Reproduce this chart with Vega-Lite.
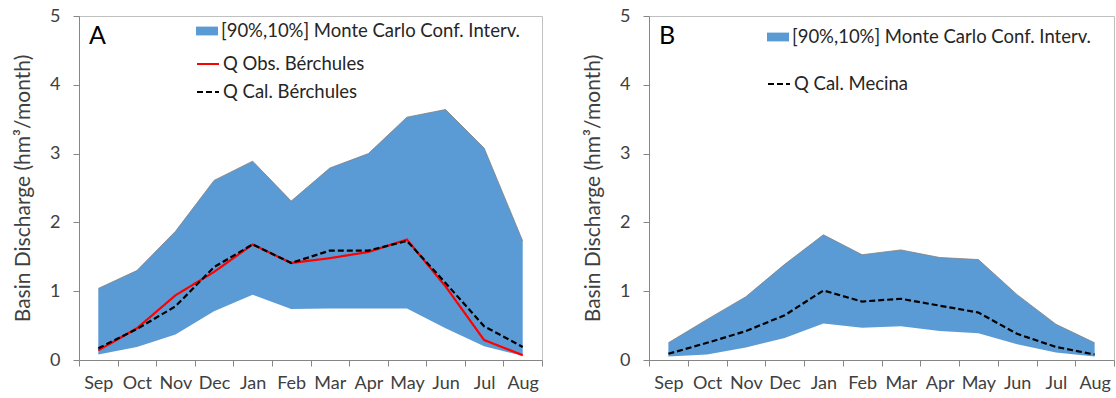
{
  "$schema": "https://vega.github.io/schema/vega-lite/v6.json",
  "padding": {"left": 12, "top": 6, "right": 1, "bottom": 0},
  "background": "white",
  "config": {
    "view": {"stroke": "#c0c0c0", "strokeWidth": 1},
    "axis": {"labelFont": "Lato", "titleFont": "Lato", "labelFontSize": 18, "titleFontSize": 21, "labelColor": "#404040", "titleColor": "#404040", "titleFontWeight": "normal", "domainColor": "#868686", "tickColor": "#868686", "grid": false},
    "legend": {"labelFont": "Lato", "labelFontSize": 18.5, "labelColor": "#262626", "padding": 0, "labelLimit": 500},
    "title": {"font": "Lato", "fontWeight": "normal", "fontSize": 25, "color": "#000000"}
  },
  "datasets": {
    "bandA": [
      {"month": "Sep", "lower": 0.08, "upper": 1.04, "series": "[90%,10%] Monte Carlo Conf. Interv."},
      {"month": "Oct", "lower": 0.19, "upper": 1.30, "series": "[90%,10%] Monte Carlo Conf. Interv."},
      {"month": "Nov", "lower": 0.37, "upper": 1.87, "series": "[90%,10%] Monte Carlo Conf. Interv."},
      {"month": "Dec", "lower": 0.71, "upper": 2.61, "series": "[90%,10%] Monte Carlo Conf. Interv."},
      {"month": "Jan", "lower": 0.95, "upper": 2.89, "series": "[90%,10%] Monte Carlo Conf. Interv."},
      {"month": "Feb", "lower": 0.74, "upper": 2.31, "series": "[90%,10%] Monte Carlo Conf. Interv."},
      {"month": "Mar", "lower": 0.75, "upper": 2.79, "series": "[90%,10%] Monte Carlo Conf. Interv."},
      {"month": "Apr", "lower": 0.75, "upper": 3.00, "series": "[90%,10%] Monte Carlo Conf. Interv."},
      {"month": "May", "lower": 0.75, "upper": 3.53, "series": "[90%,10%] Monte Carlo Conf. Interv."},
      {"month": "Jun", "lower": 0.46, "upper": 3.64, "series": "[90%,10%] Monte Carlo Conf. Interv."},
      {"month": "Jul", "lower": 0.20, "upper": 3.08, "series": "[90%,10%] Monte Carlo Conf. Interv."},
      {"month": "Aug", "lower": 0.06, "upper": 1.73, "series": "[90%,10%] Monte Carlo Conf. Interv."}
    ],
    "linesA": [
      {"month": "Sep", "value": 0.14, "series": "Q Obs. Bérchules"},
      {"month": "Oct", "value": 0.46, "series": "Q Obs. Bérchules"},
      {"month": "Nov", "value": 0.94, "series": "Q Obs. Bérchules"},
      {"month": "Dec", "value": 1.28, "series": "Q Obs. Bérchules"},
      {"month": "Jan", "value": 1.68, "series": "Q Obs. Bérchules"},
      {"month": "Feb", "value": 1.41, "series": "Q Obs. Bérchules"},
      {"month": "Mar", "value": 1.48, "series": "Q Obs. Bérchules"},
      {"month": "Apr", "value": 1.57, "series": "Q Obs. Bérchules"},
      {"month": "May", "value": 1.75, "series": "Q Obs. Bérchules"},
      {"month": "Jun", "value": 1.07, "series": "Q Obs. Bérchules"},
      {"month": "Jul", "value": 0.29, "series": "Q Obs. Bérchules"},
      {"month": "Aug", "value": 0.07, "series": "Q Obs. Bérchules"},
      {"month": "Sep", "value": 0.17, "series": "Q Cal. Bérchules"},
      {"month": "Oct", "value": 0.45, "series": "Q Cal. Bérchules"},
      {"month": "Nov", "value": 0.78, "series": "Q Cal. Bérchules"},
      {"month": "Dec", "value": 1.35, "series": "Q Cal. Bérchules"},
      {"month": "Jan", "value": 1.68, "series": "Q Cal. Bérchules"},
      {"month": "Feb", "value": 1.41, "series": "Q Cal. Bérchules"},
      {"month": "Mar", "value": 1.59, "series": "Q Cal. Bérchules"},
      {"month": "Apr", "value": 1.59, "series": "Q Cal. Bérchules"},
      {"month": "May", "value": 1.73, "series": "Q Cal. Bérchules"},
      {"month": "Jun", "value": 1.12, "series": "Q Cal. Bérchules"},
      {"month": "Jul", "value": 0.49, "series": "Q Cal. Bérchules"},
      {"month": "Aug", "value": 0.19, "series": "Q Cal. Bérchules"}
    ],
    "bandB": [
      {"month": "Sep", "lower": 0.05, "upper": 0.25, "series": "[90%,10%] Monte Carlo Conf. Interv."},
      {"month": "Oct", "lower": 0.08, "upper": 0.59, "series": "[90%,10%] Monte Carlo Conf. Interv."},
      {"month": "Nov", "lower": 0.18, "upper": 0.92, "series": "[90%,10%] Monte Carlo Conf. Interv."},
      {"month": "Dec", "lower": 0.32, "upper": 1.39, "series": "[90%,10%] Monte Carlo Conf. Interv."},
      {"month": "Jan", "lower": 0.53, "upper": 1.82, "series": "[90%,10%] Monte Carlo Conf. Interv."},
      {"month": "Feb", "lower": 0.47, "upper": 1.53, "series": "[90%,10%] Monte Carlo Conf. Interv."},
      {"month": "Mar", "lower": 0.49, "upper": 1.60, "series": "[90%,10%] Monte Carlo Conf. Interv."},
      {"month": "Apr", "lower": 0.42, "upper": 1.49, "series": "[90%,10%] Monte Carlo Conf. Interv."},
      {"month": "May", "lower": 0.39, "upper": 1.46, "series": "[90%,10%] Monte Carlo Conf. Interv."},
      {"month": "Jun", "lower": 0.23, "upper": 0.95, "series": "[90%,10%] Monte Carlo Conf. Interv."},
      {"month": "Jul", "lower": 0.11, "upper": 0.52, "series": "[90%,10%] Monte Carlo Conf. Interv."},
      {"month": "Aug", "lower": 0.05, "upper": 0.25, "series": "[90%,10%] Monte Carlo Conf. Interv."}
    ],
    "linesB": [
      {"month": "Sep", "value": 0.09, "series": "Q Cal. Mecina"},
      {"month": "Oct", "value": 0.25, "series": "Q Cal. Mecina"},
      {"month": "Nov", "value": 0.42, "series": "Q Cal. Mecina"},
      {"month": "Dec", "value": 0.65, "series": "Q Cal. Mecina"},
      {"month": "Jan", "value": 1.01, "series": "Q Cal. Mecina"},
      {"month": "Feb", "value": 0.85, "series": "Q Cal. Mecina"},
      {"month": "Mar", "value": 0.89, "series": "Q Cal. Mecina"},
      {"month": "Apr", "value": 0.79, "series": "Q Cal. Mecina"},
      {"month": "May", "value": 0.69, "series": "Q Cal. Mecina"},
      {"month": "Jun", "value": 0.38, "series": "Q Cal. Mecina"},
      {"month": "Jul", "value": 0.19, "series": "Q Cal. Mecina"},
      {"month": "Aug", "value": 0.08, "series": "Q Cal. Mecina"}
    ]
  },
  "resolve": {"scale": {"x": "independent", "y": "independent", "fill": "independent", "stroke": "independent", "strokeDash": "independent"}, "legend": {"fill": "independent", "stroke": "independent", "strokeDash": "independent"}},
  "spacing": 39,
  "hconcat": [
    {
      "width": 463,
      "height": 344,
      "title": {"text": "A", "anchor": "start", "frame": "group", "orient": "top", "dx": 10, "dy": 46},
      "encoding": {
        "x": {"field": "month", "type": "ordinal", "sort": ["Sep","Oct","Nov","Dec","Jan","Feb","Mar","Apr","May","Jun","Jul","Aug"], "bandPosition": 0.5,
              "scale": {"type": "band", "paddingInner": 0, "paddingOuter": 0},
              "axis": {"title": null, "labelAngle": 0, "tickBand": "extent", "tickSize": 6, "labelPadding": 8}}
      },
      "layer": [
        {
          "data": {"name": "bandA"},
          "mark": {"type": "area", "opacity": 1},
          "encoding": {
            "y": {"field": "lower", "type": "quantitative", "scale": {"domain": [0, 5]},
                  "axis": {"values": [0,1,2,3,4,5], "format": "d", "tickSize": 6, "labelPadding": 13, "title": "Basin Discharge (hm³/month)", "titlePadding": 16}},
            "y2": {"field": "upper"},
            "fill": {"field": "series", "type": "nominal",
              "scale": {"domain": ["[90%,10%] Monte Carlo Conf. Interv."], "range": ["#5B9BD5"]},
              "legend": {"title": null, "orient": "none", "legendX": 117, "legendY": 4, "symbolType": "M-1,-0.4H1V0.4H-1Z", "symbolSize": 484, "symbolStrokeWidth": 0, "symbolOpacity": 1, "labelOffset": 3}
            }
          }
        },
        {
          "data": {"name": "bandA"},
          "mark": {"type": "line", "color": "#7f7f7f", "strokeWidth": 0.8},
          "encoding": {"y": {"field": "upper", "type": "quantitative"}}
        },
        {
          "data": {"name": "linesA"},
          "mark": {"type": "line", "strokeWidth": 2.2},
          "encoding": {
            "y": {"field": "value", "type": "quantitative"},
            "stroke": {"field": "series", "type": "nominal", "sort": ["Q Obs. Bérchules", "Q Cal. Bérchules"],
              "scale": {"domain": ["Q Obs. Bérchules", "Q Cal. Bérchules"], "range": ["#FF0000", "#000000"]},
              "legend": {"title": null, "orient": "none", "legendX": 117, "legendY": 36, "symbolType": "stroke", "symbolSize": 484, "symbolStrokeWidth": 2, "labelOffset": 3, "rowPadding": 6}},
            "strokeDash": {"field": "series", "type": "nominal", "sort": ["Q Obs. Bérchules", "Q Cal. Bérchules"],
              "scale": {"domain": ["Q Obs. Bérchules", "Q Cal. Bérchules"], "range": [[1, 0], [6, 3]]},
              "legend": {"title": null, "orient": "none", "legendX": 117, "legendY": 36, "symbolType": "stroke", "symbolSize": 484, "symbolStrokeWidth": 2, "labelOffset": 3, "rowPadding": 6}}
          }
        }
      ]
    },
    {
      "width": 465,
      "height": 344,
      "title": {"text": "B", "anchor": "start", "frame": "group", "orient": "top", "dx": 10, "dy": 46},
      "encoding": {
        "x": {"field": "month", "type": "ordinal", "sort": ["Sep","Oct","Nov","Dec","Jan","Feb","Mar","Apr","May","Jun","Jul","Aug"], "bandPosition": 0.5,
              "scale": {"type": "band", "paddingInner": 0, "paddingOuter": 0},
              "axis": {"title": null, "labelAngle": 0, "tickBand": "extent", "tickSize": 6, "labelPadding": 8}}
      },
      "layer": [
        {
          "data": {"name": "bandB"},
          "mark": {"type": "area", "opacity": 1},
          "encoding": {
            "y": {"field": "lower", "type": "quantitative", "scale": {"domain": [0, 5]},
                  "axis": {"values": [0,1,2,3,4,5], "format": "d", "tickSize": 6, "labelPadding": 13, "title": "Basin Discharge (hm³/month)", "titlePadding": 16}},
            "y2": {"field": "upper"},
            "fill": {"field": "series", "type": "nominal",
              "scale": {"domain": ["[90%,10%] Monte Carlo Conf. Interv."], "range": ["#5B9BD5"]},
              "legend": {"title": null, "orient": "none", "legendX": 118, "legendY": 10, "symbolType": "M-1,-0.4H1V0.4H-1Z", "symbolSize": 484, "symbolStrokeWidth": 0, "symbolOpacity": 1, "labelOffset": 3}
            }
          }
        },
        {
          "data": {"name": "bandB"},
          "mark": {"type": "line", "color": "#7f7f7f", "strokeWidth": 0.8},
          "encoding": {"y": {"field": "upper", "type": "quantitative"}}
        },
        {
          "data": {"name": "linesB"},
          "mark": {"type": "line", "strokeWidth": 2.2},
          "encoding": {
            "y": {"field": "value", "type": "quantitative"},
            "stroke": {"field": "series", "type": "nominal",
              "scale": {"domain": ["Q Cal. Mecina"], "range": ["#000000"]},
              "legend": {"title": null, "orient": "none", "legendX": 118, "legendY": 56, "symbolType": "stroke", "symbolSize": 484, "symbolStrokeWidth": 2, "labelOffset": 3}},
            "strokeDash": {"field": "series", "type": "nominal",
              "scale": {"domain": ["Q Cal. Mecina"], "range": [[6, 3]]},
              "legend": {"title": null, "orient": "none", "legendX": 118, "legendY": 56, "symbolType": "stroke", "symbolSize": 484, "symbolStrokeWidth": 2, "labelOffset": 3}}
          }
        }
      ]
    }
  ]
}
